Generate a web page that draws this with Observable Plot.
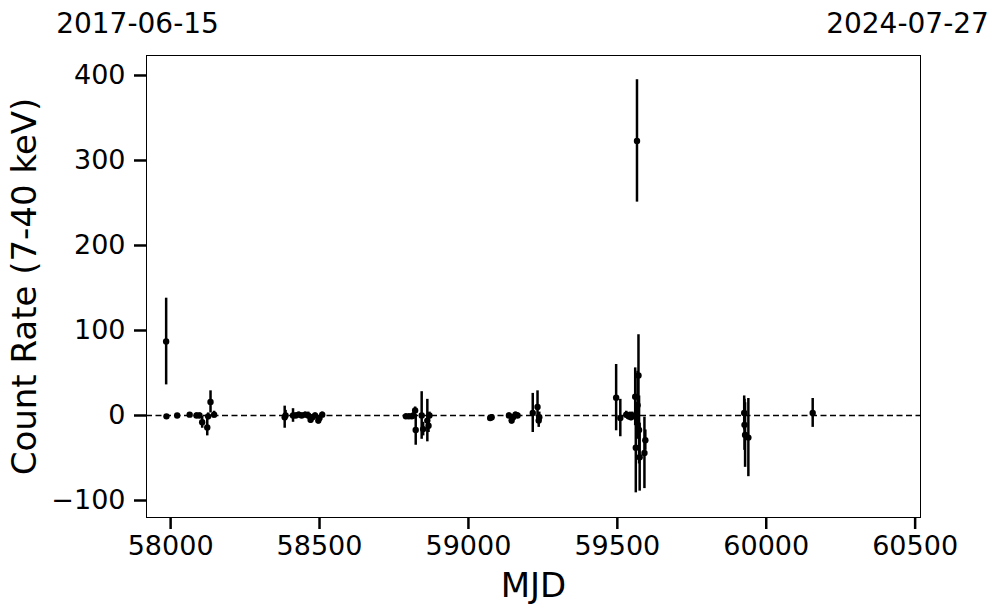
<!DOCTYPE html>
<html>
<head>
<meta charset="utf-8">
<script src="https://cdn.jsdelivr.net/npm/d3@7"></script>
<script src="https://cdn.jsdelivr.net/npm/@observablehq/plot@0.6"></script>
<style>
  html, body { margin: 0; padding: 0; background: #fff; }
  svg { display: block; overflow: visible; }
</style>
</head>
<body>
<div id="chart"></div>
<script>
const mjd = [57985, 57986, 58022, 58064, 58087, 58097, 58106, 58123, 58126, 58134, 58146,
  58383, 58386, 58411, 58420, 58430, 58440, 58452, 58462, 58470, 58476, 58485, 58496, 58500, 58509,
  58790, 58800, 58810, 58815, 58821, 58823, 58843, 58848, 58862, 58866, 58869,
  59073, 59078, 59136, 59145, 59150, 59158, 59165, 59216, 59232, 59236, 59238,
  59496, 59510, 59530, 59538, 59542, 59546, 59550, 59560, 59562, 59566, 59568, 59571, 59573, 59575, 59591, 59594,
  59926, 59927, 59929, 59940, 60156];
const rate = [87, -1, 0, 1, 0, 0, -8, -14, -1, 16, 1,
  -2, 0, 0, 0, 1, 0, 1, 0, -5, -2, 0, -6, -3, 1,
  -1, -1, -1, 0, 6, -17, 0, -16, -6, -12, 0,
  -3, -2, 0, -6, -2, 1, 0, 3, 10, -6, -2,
  21, -3, 1, -1, 0, -2, 0, 22, -38, 323, 12, 47, -17, -49, -44, -29,
  3, -11, -23, -26, 3];
const err = [51, 2, 2, 2, 3, 3, 7, 10, 4, 13, 4,
  13, 6, 8, 3, 3, 3, 3, 4, 4, 3, 3, 4, 3, 3,
  3, 3, 3, 3, 4, 18, 28, 8, 25, 8, 4,
  3, 3, 3, 4, 3, 3, 3, 23, 19, 8, 6,
  39, 22, 4, 4, 4, 4, 4, 34, 53, 72, 40, 48, 40, 40, 42, 12,
  20, 30, 38, 46, 17];
const xTicks = [58000, 58500, 59000, 59500, 60000, 60500];
const yTicks = [-100, 0, 100, 200, 300, 400];
const xDomain = [57919, 60518];
const yDomain = [-120, 423.5];
const edgeDates = ["2017-06-15", "2024-07-27"];
const xLabel = "MJD";
const yLabel = "Count Rate (7-40 keV)";

const data = mjd.map((m, i) => ({mjd: m, rate: rate[i], lo: rate[i] - err[i], hi: rate[i] + err[i]}));
const font = "DejaVu Sans, sans-serif";
const fmt = d => String(d).replace("-", "\u2212");

const chart = Plot.plot({
  width: 997,
  height: 613,
  marginLeft: 146,
  marginRight: 77,
  marginTop: 55,
  marginBottom: 96,
  style: {fontFamily: font, color: "black", background: "white", overflow: "visible"},
  x: {domain: xDomain},
  y: {domain: yDomain},
  marks: [
    Plot.ruleY([0], {stroke: "black", strokeWidth: 1.5, strokeDasharray: "6,3.5"}),
    Plot.ruleX(data, {x: "mjd", y1: "lo", y2: "hi", stroke: "black", strokeWidth: 2.5}),
    Plot.dot(data, {x: "mjd", y: "rate", r: 3.2, fill: "black", stroke: "none"}),
    Plot.frame({stroke: "black", strokeWidth: 1}),
    Plot.axisX({ticks: xTicks, tickFormat: fmt, tickSize: 12, tickPadding: 6, strokeWidth: 2.5, fontSize: 27, label: null}),
    Plot.axisY({ticks: yTicks, tickFormat: fmt, tickSize: 12, tickPadding: 9, strokeWidth: 2.5, fontSize: 27, label: null}),
    Plot.text([xLabel], {frameAnchor: "bottom", dy: 79, lineAnchor: "bottom", fontSize: 34, fill: "black"}),
    Plot.text([yLabel], {frameAnchor: "left", dx: -111, rotate: -90, textAnchor: "middle", lineAnchor: "bottom", fontSize: 34, fill: "black"}),
    Plot.text([edgeDates[0]], {x: () => xDomain[0], frameAnchor: "top", dy: -23, dx: -9, textAnchor: "middle", lineAnchor: "bottom", fontSize: 28, fill: "black"}),
    Plot.text([edgeDates[1]], {x: () => xDomain[1], frameAnchor: "top", dy: -23, dx: -13, textAnchor: "middle", lineAnchor: "bottom", fontSize: 28, fill: "black"})
  ]
});
document.getElementById("chart").appendChild(chart);
</script>
</body>
</html>
